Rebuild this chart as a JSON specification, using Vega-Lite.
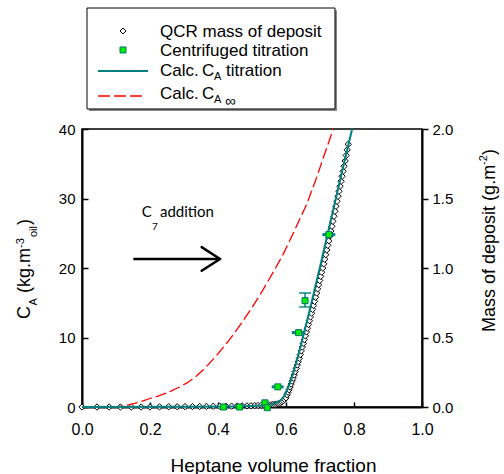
{
"$schema": "https://vega.github.io/schema/vega-lite/v6.json",
"width": 340, "height": 278,
"autosize": {"type": "none"},
"padding": {"left": 82, "top": 129, "right": 82, "bottom": 67},
"config": {
  "view": {"stroke": "black", "strokeWidth": 1.5},
  "font": "Liberation Sans",
  "axis": {"grid": false, "labelFlush": false, "labelFont": "Liberation Sans", "labelColor": "black", "domainColor": "black", "tickColor": "black", "titleFont": "Liberation Sans", "titleColor": "black", "titleFontWeight": "normal"}
},
"datasets": {
  "one": [{}],
  "qcr": [
    {"x":0.0,"mass":0},{"x":0.044,"mass":0},{"x":0.08,"mass":0},{"x":0.113,"mass":0},{"x":0.145,"mass":0},{"x":0.174,"mass":0},{"x":0.2,"mass":0},
    {"x":0.228,"mass":0.001},{"x":0.255,"mass":0.002},{"x":0.28,"mass":0.002},{"x":0.303,"mass":0.003},{"x":0.325,"mass":0.003},{"x":0.346,"mass":0.004},
    {"x":0.366,"mass":0.004},{"x":0.386,"mass":0.005},{"x":0.405,"mass":0.005},{"x":0.423,"mass":0.006},{"x":0.44,"mass":0.006},{"x":0.456,"mass":0.007},
    {"x":0.471,"mass":0.008},{"x":0.485,"mass":0.008},{"x":0.497,"mass":0.009},{"x":0.508,"mass":0.01},{"x":0.518,"mass":0.011},{"x":0.527,"mass":0.012},
    {"x":0.535,"mass":0.013},{"x":0.542,"mass":0.014},{"x":0.549,"mass":0.015},{"x":0.555,"mass":0.016},{"x":0.561,"mass":0.017},{"x":0.566,"mass":0.018},
    {"x":0.571,"mass":0.02},{"x":0.576,"mass":0.022},{"x":0.58,"mass":0.025},{"x":0.584,"mass":0.03},{"x":0.588,"mass":0.037},{"x":0.592,"mass":0.045},
    {"x":0.596,"mass":0.055},{"x":0.6,"mass":0.066},
    {"x":0.603,"mass":0.088},{"x":0.606,"mass":0.106},{"x":0.609,"mass":0.124},{"x":0.612,"mass":0.144},{"x":0.615,"mass":0.165},{"x":0.618,"mass":0.186},
    {"x":0.621,"mass":0.207},{"x":0.624,"mass":0.23},{"x":0.627,"mass":0.254},{"x":0.63,"mass":0.278},{"x":0.633,"mass":0.302},{"x":0.636,"mass":0.326},
    {"x":0.639,"mass":0.35},{"x":0.642,"mass":0.377},{"x":0.645,"mass":0.404},{"x":0.648,"mass":0.431},{"x":0.651,"mass":0.458},{"x":0.654,"mass":0.485},
    {"x":0.657,"mass":0.512},{"x":0.66,"mass":0.54},{"x":0.663,"mass":0.567},{"x":0.666,"mass":0.594},{"x":0.669,"mass":0.621},{"x":0.672,"mass":0.648},
    {"x":0.675,"mass":0.675},{"x":0.678,"mass":0.702},{"x":0.681,"mass":0.73},{"x":0.684,"mass":0.76},{"x":0.687,"mass":0.79},{"x":0.69,"mass":0.82},
    {"x":0.693,"mass":0.85},{"x":0.696,"mass":0.88},{"x":0.699,"mass":0.91},{"x":0.702,"mass":0.94},{"x":0.705,"mass":0.97},{"x":0.708,"mass":1.0},
    {"x":0.711,"mass":1.03},{"x":0.714,"mass":1.063},{"x":0.717,"mass":1.096},{"x":0.72,"mass":1.13},{"x":0.723,"mass":1.163},{"x":0.726,"mass":1.196},
    {"x":0.729,"mass":1.23},{"x":0.732,"mass":1.266},{"x":0.735,"mass":1.3},{"x":0.738,"mass":1.336},{"x":0.741,"mass":1.372},{"x":0.744,"mass":1.408},
    {"x":0.747,"mass":1.444},{"x":0.75,"mass":1.48},{"x":0.753,"mass":1.516},{"x":0.756,"mass":1.552},{"x":0.759,"mass":1.588},{"x":0.762,"mass":1.624},
    {"x":0.765,"mass":1.66},{"x":0.768,"mass":1.696},{"x":0.771,"mass":1.732},{"x":0.774,"mass":1.77},{"x":0.777,"mass":1.81},{"x":0.78,"mass":1.85},
    {"x":0.783,"mass":1.89}
  ],
  "teal": [
    {"x":0,"ca":0},{"x":0.3,"ca":0.02},{"x":0.45,"ca":0.08},{"x":0.5,"ca":0.15},{"x":0.53,"ca":0.22},{"x":0.55,"ca":0.3},{"x":0.57,"ca":0.55},
    {"x":0.585,"ca":1.0},{"x":0.595,"ca":1.6},{"x":0.605,"ca":2.6},{"x":0.615,"ca":3.9},{"x":0.625,"ca":5.5},{"x":0.635,"ca":7.2},
    {"x":0.645,"ca":9.1},{"x":0.655,"ca":11.1},{"x":0.665,"ca":13.0},{"x":0.675,"ca":15.0},{"x":0.69,"ca":18.1},{"x":0.705,"ca":21.2},{"x":0.72,"ca":24.4},
    {"x":0.74,"ca":28.6},{"x":0.76,"ca":32.8},{"x":0.78,"ca":37.0},{"x":0.7945,"ca":40.0}
  ],
  "inf": [
    {"x":0,"ca":0},{"x":0.09,"ca":0},{"x":0.1,"ca":0.03},{"x":0.125,"ca":0.2},{"x":0.15,"ca":0.45},{"x":0.175,"ca":0.8},{"x":0.196,"ca":1.15},
    {"x":0.225,"ca":1.6},{"x":0.25,"ca":2.05},{"x":0.284,"ca":2.8},{"x":0.31,"ca":3.5},{"x":0.333,"ca":4.3},{"x":0.36,"ca":5.5},{"x":0.392,"ca":7.2},
    {"x":0.431,"ca":9.5},{"x":0.471,"ca":12.2},{"x":0.5,"ca":14.3},{"x":0.528,"ca":16.5},{"x":0.56,"ca":19.2},{"x":0.592,"ca":22.0},{"x":0.625,"ca":25.4},
    {"x":0.661,"ca":29.2},{"x":0.69,"ca":33.0},{"x":0.71,"ca":35.9},{"x":0.739,"ca":40.0}
  ],
  "centrifuge": [
    {"x":0.416,"ca":0.0},{"x":0.463,"ca":0.0},{"x":0.538,"ca":0.6},{"x":0.545,"ca":-0.1},
    {"x":0.576,"ca":2.9,"xlo":0.558,"xhi":0.593},
    {"x":0.637,"ca":10.7,"xlo":0.617,"xhi":0.657},
    {"x":0.656,"ca":15.3,"ylo":14.4,"yhi":16.4},
    {"x":0.726,"ca":24.8,"xlo":0.707,"xhi":0.745}
  ]
},
"layer": [
  {
    "layer": [
      {
        "data": {"name": "qcr"},
        "mark": {"type": "point", "shape": "diamond", "size": 40, "filled": false, "stroke": "black", "strokeWidth": 1, "fill": "white", "fillOpacity": 1, "opacity": 1},
        "encoding": {
          "x": {"field": "x", "type": "quantitative", "scale": {"domain": [0, 1], "nice": false, "padding": 0, "zero": false},
                "axis": {"values": [0, 0.2, 0.4, 0.6, 0.8, 1], "format": ".1f", "labelFlush": false, "tickSize": -5, "labelPadding": 19, "labelFontSize": 16, "domainWidth": 2, "tickWidth": 1.5, "title": "Heptane volume fraction", "titleFontSize": 19, "titleY": 49, "titleX": 191, "titleBaseline": "top"}},
          "y": {"field": "mass", "type": "quantitative", "scale": {"domain": [0, 2], "nice": false, "padding": 0},
                "axis": {"orient": "right", "values": [0, 0.5, 1, 1.5, 2], "format": ".1f", "tickSize": 6, "labelPadding": 4, "labelFontSize": 15, "domainWidth": 2, "tickWidth": 1.5, "title": null}}
        }
      },
      {"data": {"name": "one"}, "mark": {"type": "text", "text": "Mass of deposit (g.m", "angle": 270, "align": "left", "baseline": "alphabetic", "fontSize": 18, "font": "Liberation Sans"},
       "encoding": {"x": {"datum": 1.2147}, "y": {"datum": 0.54}}},
      {"data": {"name": "one"}, "mark": {"type": "text", "text": "-2", "angle": 270, "align": "left", "baseline": "alphabetic", "fontSize": 11, "font": "Liberation Sans"},
       "encoding": {"x": {"datum": 1.191}, "y": {"datum": 1.741}}},
      {"data": {"name": "one"}, "mark": {"type": "text", "text": ")", "angle": 270, "align": "left", "baseline": "alphabetic", "fontSize": 18, "font": "Liberation Sans"},
       "encoding": {"x": {"datum": 1.2147}, "y": {"datum": 1.813}}}
    ]
  },
  {
    "layer": [
      {
        "data": {"name": "inf"},
        "mark": {"type": "line", "color": "#ff0000", "strokeWidth": 1.3, "strokeDash": [11, 4]},
        "encoding": {
          "x": {"field": "x", "type": "quantitative"},
          "y": {"field": "ca", "type": "quantitative", "scale": {"domain": [0, 40], "nice": false, "padding": 0},
                "axis": {"orient": "left", "values": [0, 10, 20, 30, 40], "tickSize": -6, "labelPadding": 13, "labelFontSize": 15, "domainWidth": 2, "tickWidth": 1.5, "title": null}}
        }
      },
      {
        "data": {"name": "teal"},
        "mark": {"type": "line", "color": "#008080", "strokeWidth": 2},
        "encoding": {"x": {"field": "x", "type": "quantitative"}, "y": {"field": "ca", "type": "quantitative"}}
      },
      {
        "data": {"name": "centrifuge"},
        "transform": [{"filter": "isValid(datum.xlo)"}],
        "mark": {"type": "rule", "color": "#008080", "strokeWidth": 3},
        "encoding": {"x": {"field": "xlo", "type": "quantitative"}, "x2": {"field": "xhi"}, "y": {"field": "ca", "type": "quantitative"}}
      },
      {
        "data": {"name": "centrifuge"},
        "transform": [{"filter": "isValid(datum.ylo)"}],
        "mark": {"type": "rule", "color": "#008080", "strokeWidth": 1.5},
        "encoding": {"x": {"field": "x", "type": "quantitative"}, "y": {"field": "ylo", "type": "quantitative"}, "y2": {"field": "yhi"}}
      },
      {
        "data": {"name": "centrifuge"},
        "transform": [{"filter": "isValid(datum.ylo)"}, {"fold": ["ylo", "yhi"], "as": ["end", "cap"]}],
        "mark": {"type": "tick", "orient": "horizontal", "color": "#008080", "size": 12, "thickness": 2},
        "encoding": {"x": {"field": "x", "type": "quantitative", "scale": {"padding": 0}}, "y": {"field": "cap", "type": "quantitative"}}
      },
      {
        "data": {"name": "centrifuge"},
        "mark": {"type": "point", "shape": "square", "size": 36, "filled": true, "fill": "#00ee00", "stroke": "#006f6f", "strokeWidth": 1, "opacity": 1},
        "encoding": {"x": {"field": "x", "type": "quantitative"}, "y": {"field": "ca", "type": "quantitative"}}
      },
      {"data": {"name": "one"}, "mark": {"type": "rect", "fill": "#888888", "stroke": null},
       "encoding": {"x": {"datum": 0.0206}, "x2": {"datum": 0.75}, "y": {"datum": 57.1}, "y2": {"datum": 42.6}}},
      {"data": {"name": "one"}, "mark": {"type": "rect", "fill": "white", "stroke": "black", "strokeWidth": 1},
       "encoding": {"x": {"datum": 0.0147}, "x2": {"datum": 0.7441}, "y": {"datum": 57.41}, "y2": {"datum": 42.88}}},
      {"data": {"name": "one"}, "mark": {"type": "point", "shape": "diamond", "size": 36, "filled": false, "stroke": "black", "strokeWidth": 1, "fill": "white", "opacity": 1},
       "encoding": {"x": {"datum": 0.1206}, "y": {"datum": 54.1}}},
      {"data": {"name": "one"}, "mark": {"type": "point", "shape": "square", "size": 36, "filled": true, "fill": "#00ee00", "stroke": "#006f6f", "strokeWidth": 1, "opacity": 1},
       "encoding": {"x": {"datum": 0.1206}, "y": {"datum": 51.37}}},
      {"data": {"name": "one"}, "mark": {"type": "rule", "color": "#008080", "strokeWidth": 2},
       "encoding": {"x": {"datum": 0.047}, "x2": {"datum": 0.194}, "y": {"datum": 48.35}}},
      {"data": {"name": "one"}, "mark": {"type": "rule", "color": "#ff0000", "strokeWidth": 1.5, "strokeDash": [12, 4]},
       "encoding": {"x": {"datum": 0.047}, "x2": {"datum": 0.185}, "y": {"datum": 44.75}}},
      {"data": {"name": "one"}, "mark": {"type": "text", "text": "QCR mass of deposit", "align": "left", "baseline": "alphabetic", "fontSize": 17},
       "encoding": {"x": {"datum": 0.2294}, "y": {"datum": 53.29}}},
      {"data": {"name": "one"}, "mark": {"type": "text", "text": "Centrifuged titration", "align": "left", "baseline": "alphabetic", "fontSize": 17},
       "encoding": {"x": {"datum": 0.2294}, "y": {"datum": 50.49}}},
      {"data": {"name": "one"}, "mark": {"type": "text", "text": "Calc.", "align": "left", "baseline": "alphabetic", "fontSize": 17},
       "encoding": {"x": {"datum": 0.2294}, "y": {"datum": 47.61}}},
      {"data": {"name": "one"}, "mark": {"type": "text", "text": "C", "align": "left", "baseline": "alphabetic", "fontSize": 17},
       "encoding": {"x": {"datum": 0.3529}, "y": {"datum": 47.61}}},
      {"data": {"name": "one"}, "mark": {"type": "text", "text": "A", "align": "left", "baseline": "alphabetic", "fontSize": 11},
       "encoding": {"x": {"datum": 0.3882}, "y": {"datum": 47.05}}},
      {"data": {"name": "one"}, "mark": {"type": "text", "text": "titration", "align": "left", "baseline": "alphabetic", "fontSize": 17},
       "encoding": {"x": {"datum": 0.4235}, "y": {"datum": 47.61}}},
      {"data": {"name": "one"}, "mark": {"type": "text", "text": "Calc.", "align": "left", "baseline": "alphabetic", "fontSize": 17},
       "encoding": {"x": {"datum": 0.2294}, "y": {"datum": 44.3}}},
      {"data": {"name": "one"}, "mark": {"type": "text", "text": "C", "align": "left", "baseline": "alphabetic", "fontSize": 17},
       "encoding": {"x": {"datum": 0.3529}, "y": {"datum": 44.3}}},
      {"data": {"name": "one"}, "mark": {"type": "text", "text": "A", "align": "left", "baseline": "alphabetic", "fontSize": 11},
       "encoding": {"x": {"datum": 0.3882}, "y": {"datum": 43.74}}},
      {"data": {"name": "one"}, "mark": {"type": "text", "text": "∞", "align": "left", "baseline": "alphabetic", "fontSize": 15},
       "encoding": {"x": {"datum": 0.4206}, "y": {"datum": 43.31}}},
      {"data": {"name": "one"}, "mark": {"type": "text", "text": "C", "align": "left", "baseline": "alphabetic", "fontSize": 15, "font": "Lato"},
       "encoding": {"x": {"datum": 0.1756}, "y": {"datum": 27.34}}},
      {"data": {"name": "one"}, "mark": {"type": "text", "text": "7", "align": "left", "baseline": "alphabetic", "fontSize": 10, "font": "Lato"},
       "encoding": {"x": {"datum": 0.2059}, "y": {"datum": 25.4}}},
      {"data": {"name": "one"}, "mark": {"type": "text", "text": "addition", "align": "left", "baseline": "alphabetic", "fontSize": 15, "font": "Lato"},
       "encoding": {"x": {"datum": 0.2294}, "y": {"datum": 27.34}}},
      {"data": {"name": "one"}, "mark": {"type": "rule", "color": "black", "strokeWidth": 2.5},
       "encoding": {"x": {"datum": 0.151}, "x2": {"datum": 0.404}, "y": {"datum": 21.3}}},
      {"data": {"name": "one"}, "mark": {"type": "rule", "color": "black", "strokeWidth": 2.5, "strokeCap": "round"},
       "encoding": {"x": {"datum": 0.352}, "x2": {"datum": 0.406}, "y": {"datum": 23.0}, "y2": {"datum": 21.3}}},
      {"data": {"name": "one"}, "mark": {"type": "rule", "color": "black", "strokeWidth": 2.5, "strokeCap": "round"},
       "encoding": {"x": {"datum": 0.352}, "x2": {"datum": 0.406}, "y": {"datum": 19.6}, "y2": {"datum": 21.3}}},
      {"data": {"name": "one"}, "mark": {"type": "text", "text": "C", "angle": 270, "align": "left", "baseline": "alphabetic", "fontSize": 18},
       "encoding": {"x": {"datum": -0.1515}, "y": {"datum": 12.66}}},
      {"data": {"name": "one"}, "mark": {"type": "text", "text": "A", "angle": 270, "align": "left", "baseline": "alphabetic", "fontSize": 11},
       "encoding": {"x": {"datum": -0.1324}, "y": {"datum": 14.6}}},
      {"data": {"name": "one"}, "mark": {"type": "text", "text": "(kg.m", "angle": 270, "align": "left", "baseline": "alphabetic", "fontSize": 18},
       "encoding": {"x": {"datum": -0.1515}, "y": {"datum": 16.4}}},
      {"data": {"name": "one"}, "mark": {"type": "text", "text": "-3", "angle": 270, "align": "left", "baseline": "alphabetic", "fontSize": 11},
       "encoding": {"x": {"datum": -0.172}, "y": {"datum": 22.88}}},
      {"data": {"name": "one"}, "mark": {"type": "text", "text": "oil", "angle": 270, "align": "left", "baseline": "alphabetic", "fontSize": 11},
       "encoding": {"x": {"datum": -0.1324}, "y": {"datum": 24.46}}},
      {"data": {"name": "one"}, "mark": {"type": "text", "text": ")", "angle": 270, "align": "left", "baseline": "alphabetic", "fontSize": 18},
       "encoding": {"x": {"datum": -0.1515}, "y": {"datum": 26.19}}}
    ]
  }
],
"resolve": {"scale": {"y": "independent"}}
}
